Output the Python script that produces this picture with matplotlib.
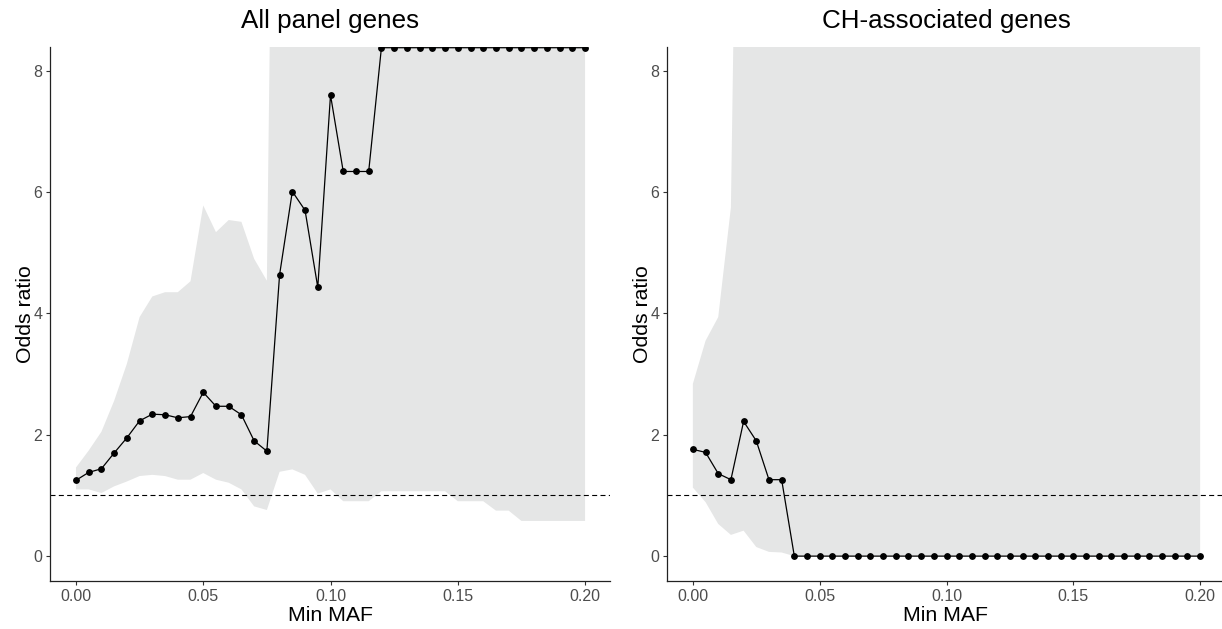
import matplotlib
matplotlib.use("Agg")
import matplotlib.pyplot as plt

plt.rcParams['font.family'] = ['Liberation Sans', 'DejaVu Sans']

maf = [0.000, 0.005, 0.010, 0.015, 0.020, 0.025, 0.030, 0.035, 0.040, 0.045,
       0.050, 0.055, 0.060, 0.065, 0.070, 0.075, 0.080, 0.085, 0.090, 0.095,
       0.100, 0.105, 0.110, 0.115, 0.120, 0.125, 0.130, 0.135, 0.140, 0.145,
       0.150, 0.155, 0.160, 0.165, 0.170, 0.175, 0.180, 0.185, 0.190, 0.195,
       0.200]

# All panel genes
all_or = [1.25, 1.38, 1.44, 1.70, 1.95, 2.23, 2.34, 2.33, 2.28, 2.30,
          2.70, 2.47, 2.47, 2.33, 1.90, 1.73, 4.64, 6.01, 5.70, 4.43,
          7.60, 6.34, 6.34, 6.34] + [8.38] * 17
all_hi = [1.46, 1.74, 2.05, 2.56, 3.17, 3.94, 4.28, 4.35, 4.35, 4.53,
          5.78, 5.34, 5.54, 5.51, 4.90, 4.54] + [22] * 25
all_lo = [1.10, 1.10, 1.04, 1.15, 1.23, 1.32, 1.34, 1.32, 1.26, 1.26,
          1.37, 1.26, 1.21, 1.10, 0.82, 0.76, 1.39, 1.43, 1.34, 1.03,
          1.10, 0.905, 0.905, 0.905, 1.07, 1.07, 1.07, 1.07, 1.07, 1.07,
          0.905, 0.905, 0.905, 0.75, 0.75, 0.58, 0.58, 0.58, 0.58, 0.58,
          0.58]

# CH-associated genes
ch_or = [1.76, 1.71, 1.36, 1.26, 2.22, 1.90, 1.26, 1.26] + [0.0] * 33
ch_hi = [2.84, 3.55, 3.94, 5.75] + [20] * 37
ch_lo = [1.13, 0.89, 0.53, 0.35, 0.42, 0.15, 0.07, 0.06] + [0.0] * 33

W, H = 1222, 629
fig = plt.figure(figsize=(W / 100, H / 100), dpi=100)

panels = [
    ("All panel genes", all_or, all_lo, all_hi, 50, 610),
    ("CH-associated genes", ch_or, ch_lo, ch_hi, 667, 1225),
]

for title, y, lo, hi, x0, x1 in panels:
    ax = fig.add_axes([x0 / W, (H - 581) / H, (x1 - x0) / W, (581 - 46.5) / H])
    ax.fill_between(maf, lo, hi, color='#e5e6e6', lw=0)
    ax.axhline(1, color='black', lw=0.8, ls=(0, (4.5, 3)))
    ax.plot(maf, y, color='black', lw=0.9, marker='o', markersize=3.9)
    ax.set_xlim(-0.0102, 0.2098)
    ax.set_ylim(-0.41, 8.40)
    ax.set_xticks([0.00, 0.05, 0.10, 0.15, 0.20])
    ax.set_xticklabels(["0.00", "0.05", "0.10", "0.15", "0.20"])
    ax.set_yticks([0, 2, 4, 6, 8])
    for s in ['top', 'right']:
        ax.spines[s].set_visible(False)
    for s in ['left', 'bottom']:
        ax.spines[s].set_linewidth(0.9)
        ax.spines[s].set_color('#222222')
    ax.tick_params(length=3, width=0.8, color='#333333', labelcolor='#4d4d4d',
                   labelsize=11.5, pad=2.5)
    ax.set_xlabel("Min MAF", fontsize=15.3, labelpad=2)
    ax.set_ylabel("Odds ratio", fontsize=15.3, labelpad=-1)
    ax.set_title(title, fontsize=18.7, pad=13)

fig.savefig("out.png", dpi=100)
